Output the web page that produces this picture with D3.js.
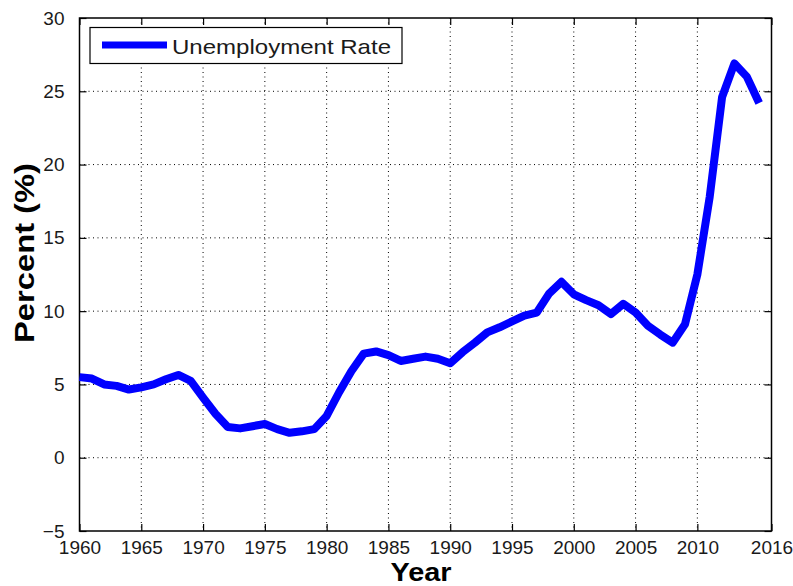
<!DOCTYPE html>
<html>
<head>
<meta charset="utf-8">
<script src="https://cdn.jsdelivr.net/npm/d3@7"></script>
<style>
  html, body { margin: 0; padding: 0; background: #fff; }
  svg { display: block; font-family: Arial, "Liberation Sans", Helvetica, sans-serif; }
</style>
</head>
<body>
<svg id="chart" width="793" height="586"></svg>
<script>
// Annual unemployment rate, percent
const years = [1960,1961,1962,1963,1964,1965,1966,1967,1968,1969,
               1970,1971,1972,1973,1974,1975,1976,1977,1978,1979,
               1980,1981,1982,1983,1984,1985,1986,1987,1988,1989,
               1990,1991,1992,1993,1994,1995,1996,1997,1998,1999,
               2000,2001,2002,2003,2004,2005,2006,2007,2008,2009,
               2010,2011,2012,2013,2014,2015];
const rates = [5.5,5.4,5.0,4.9,4.65,4.8,5.0,5.35,5.65,5.25,
               4.1,3.0,2.1,2.0,2.15,2.3,1.95,1.7,1.8,1.95,
               2.85,4.45,5.9,7.1,7.25,7.0,6.6,6.75,6.9,6.75,
               6.45,7.2,7.85,8.55,8.9,9.3,9.7,9.9,11.2,12.0,
               11.15,10.75,10.4,9.8,10.5,9.9,9.0,8.4,7.85,9.1,
               12.5,17.8,24.6,26.9,26.0,24.2];
const xTicks = [1960,1965,1970,1975,1980,1985,1990,1995,2000,2005,2010,2016];
const yTicks = [-5,0,5,10,15,20,25,30];
const seriesName = "Unemployment Rate";

const svg = d3.select("#chart");
const L = 79.5, R = 771.5, T = 18, B = 531;

const x = d3.scaleLinear().domain([1960, 2016]).range([L, R]);
const y = d3.scaleLinear().domain([-5, 30]).range([B, T]);

// dotted grid
const grid = svg.append("g");
grid.selectAll("line.gx").data(xTicks.filter(t => t > 1960 && t < 2016)).join("line")
  .attr("x1", d => x(d)).attr("x2", d => x(d)).attr("y1", T).attr("y2", B)
  .attr("stroke", "#000").attr("stroke-width", 1).attr("stroke-dasharray", "1,3.5");
grid.selectAll("line.gy").data(yTicks.filter(t => t > -5 && t < 30)).join("line")
  .attr("y1", d => y(d)).attr("y2", d => y(d)).attr("x1", L).attr("x2", R)
  .attr("stroke", "#000").attr("stroke-width", 1).attr("stroke-dasharray", "1,3.5");

// axes: ticks point inward on all four sides
const tickStyle = g => {
  g.select(".domain").remove();
  g.selectAll(".tick line").attr("stroke", "#000").attr("stroke-width", 1.2);
  g.selectAll(".tick text").attr("fill", "#1a1a1a").attr("font-size", 19)
    .attr("font-family", "Arial, 'Liberation Sans', sans-serif");
};
svg.append("g").attr("transform", `translate(0,${B})`)
  .call(d3.axisBottom(x).tickValues(xTicks).tickFormat(d3.format("d")).tickSizeInner(-7).tickPadding(10))
  .call(tickStyle);
svg.append("g").attr("transform", `translate(0,${T})`)
  .call(d3.axisTop(x).tickValues(xTicks).tickFormat("").tickSizeInner(-7))
  .call(tickStyle);
svg.append("g").attr("transform", `translate(${L},0)`)
  .call(d3.axisLeft(y).tickValues(yTicks).tickFormat(d3.format("d")).tickSizeInner(-7).tickPadding(15))
  .call(tickStyle);
svg.append("g").attr("transform", `translate(${R},0)`)
  .call(d3.axisRight(y).tickValues(yTicks).tickFormat("").tickSizeInner(-7))
  .call(tickStyle);

// frame
svg.append("rect").attr("x", L).attr("y", T).attr("width", R - L).attr("height", B - T)
  .attr("fill", "none").attr("stroke", "#000").attr("stroke-width", 1.5);

// data line
const line = d3.line().x((d, i) => x(years[i])).y(d => y(d)).curve(d3.curveLinear);
svg.append("path").datum(rates)
  .attr("d", line)
  .attr("fill", "none").attr("stroke", "#0000ff").attr("stroke-width", 8)
  .attr("stroke-linejoin", "round").attr("stroke-linecap", "butt");

// legend
const lg = svg.append("g");
lg.append("rect").attr("x", 90).attr("y", 27.5).attr("width", 312).attr("height", 36)
  .attr("fill", "#fff").attr("stroke", "#000").attr("stroke-width", 1.2);
lg.append("line").attr("x1", 102).attr("x2", 167).attr("y1", 45).attr("y2", 45)
  .attr("stroke", "#0000ff").attr("stroke-width", 7);
lg.append("text").attr("x", 172).attr("y", 53.5).text(seriesName)
  .attr("font-size", 21).attr("fill", "#1a1a1a")
  .attr("textLength", 219).attr("lengthAdjust", "spacingAndGlyphs");

// axis titles
svg.append("text").attr("x", 421).attr("y", 581).attr("text-anchor", "middle")
  .attr("font-size", 26).attr("font-weight", "bold").attr("fill", "#000")
  .attr("textLength", 61).attr("lengthAdjust", "spacingAndGlyphs").text("Year");
svg.append("text").attr("transform", "translate(34,253) rotate(-90)").attr("text-anchor", "middle")
  .attr("font-size", 27).attr("font-weight", "bold").attr("fill", "#000")
  .attr("textLength", 180).attr("lengthAdjust", "spacingAndGlyphs").text("Percent (%)");
</script>
</body>
</html>
